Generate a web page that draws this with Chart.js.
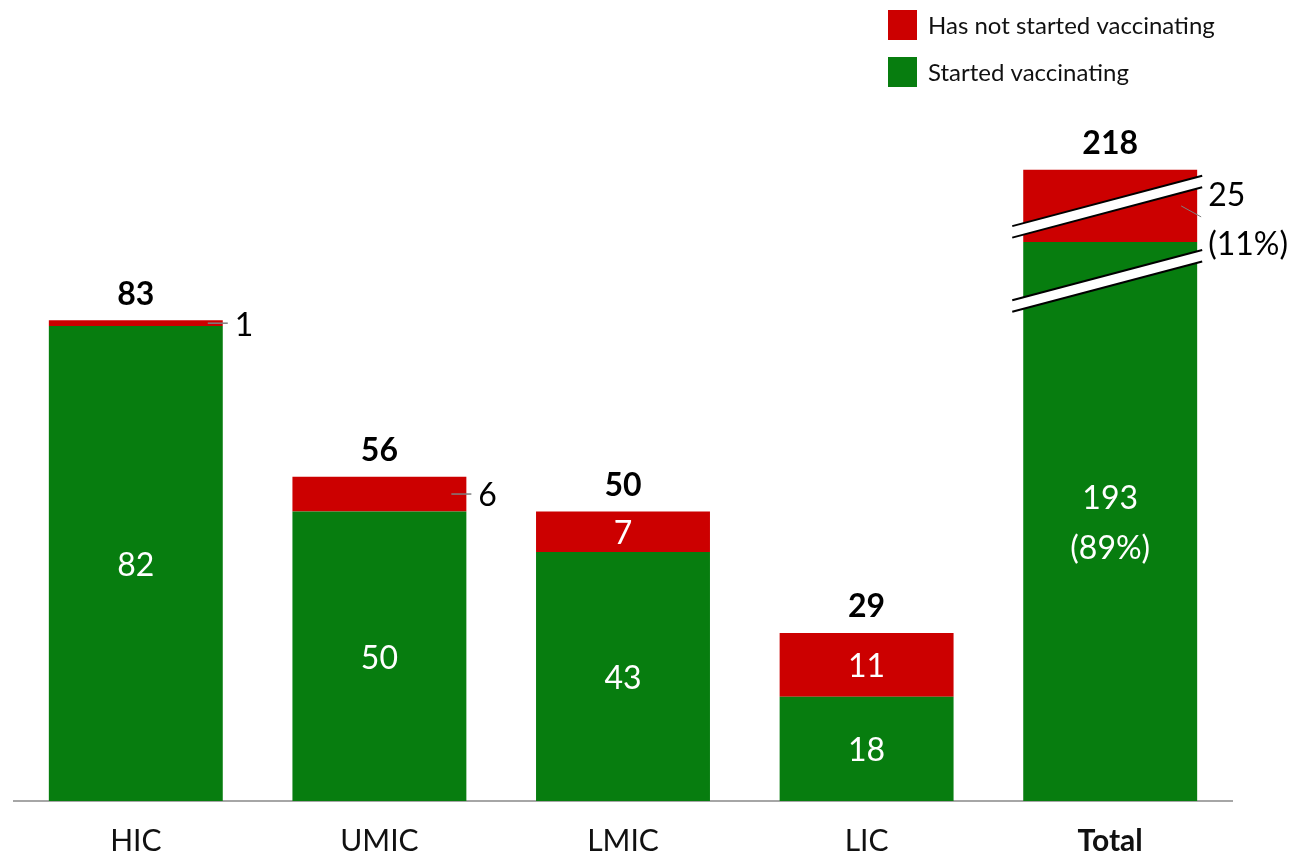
<!DOCTYPE html>
<html>
<head>
<meta charset="utf-8">
<script src="https://cdn.jsdelivr.net/npm/chart.js@4.4.1/dist/chart.umd.min.js"></script>
<style>
  html, body { margin: 0; padding: 0; background: #ffffff; }
  #wrap { width: 1294px; height: 853px; }
</style>
</head>
<body>
<div id="wrap"><canvas id="c" width="1294" height="853"></canvas></div>
<script>
// ---- data ----
const categories = ['HIC', 'UMIC', 'LMIC', 'LIC', 'Total'];
const startedValues = [82, 50, 43, 18, null];
const notStartedValues = [1, 6, 7, 11, null];
const totalStartedValues = [null, null, null, null, 193];
const totalNotStartedValues = [null, null, null, null, 25];
const barTotals = [83, 56, 50, 29, 218];
const totalStartedPct = '89%';
const totalNotStartedPct = '11%';
const legendLabels = ['Has not started vaccinating', 'Started vaccinating'];

const GREEN = 'rgb(7,125,15)';
const RED = 'rgb(204,0,0)';
const FONT = 'Lato, "Open Sans", sans-serif';

const labelsPlugin = {
  id: 'labelsPlugin',
  afterDatasetsDraw(chart) {
    const ctx = chart.ctx;
    const mG = chart.getDatasetMeta(0), mR = chart.getDatasetMeta(1);
    const mGT = chart.getDatasetMeta(2), mRT = chart.getDatasetMeta(3);
    ctx.save();
    ctx.textBaseline = 'middle';
    for (let i = 0; i < categories.length; i++) {
      const isTotal = startedValues[i] === null;
      const g = isTotal ? mGT.data[i] : mG.data[i];
      const r = isTotal ? mRT.data[i] : mR.data[i];
      const left = g.x - g.width / 2, right = g.x + g.width / 2;
      // green label
      ctx.fillStyle = '#ffffff';
      ctx.textAlign = 'center';
      ctx.font = '32px ' + FONT;
      const gMid = (g.y + g.base) / 2;
      if (isTotal) {
        ctx.fillText(String(totalStartedValues[i]), g.x, gMid - 23);
        ctx.fillText('(' + totalStartedPct + ')', g.x, gMid + 27);
      } else {
        ctx.fillText(String(startedValues[i]), g.x, gMid + 2);
      }
      // red label
      const rMid = (r.y + r.base) / 2;
      const rH = r.base - r.y;
      if (isTotal) {
        // break marks
        const slope = -0.265, th = 11.5;
        const x1 = left - 11, x2 = right + 5;
        const bands = [rMid, g.y + 38];
        bands.forEach(cy => {
          const yA = cy - th / 2 - slope * (g.x - x1);
          const yB = cy - th / 2 + slope * (x2 - g.x);
          ctx.beginPath();
          ctx.moveTo(x1, yA); ctx.lineTo(x2, yB);
          ctx.lineTo(x2, yB + th); ctx.lineTo(x1, yA + th); ctx.closePath();
          ctx.fillStyle = '#ffffff'; ctx.fill();
          ctx.strokeStyle = '#000000'; ctx.lineWidth = 2;
          ctx.beginPath(); ctx.moveTo(x1, yA); ctx.lineTo(x2, yB); ctx.stroke();
          ctx.beginPath(); ctx.moveTo(x1, yA + th); ctx.lineTo(x2, yB + th); ctx.stroke();
        });
        // leader
        ctx.strokeStyle = '#7f7f7f'; ctx.lineWidth = 1;
        ctx.beginPath(); ctx.moveTo(right - 16, rMid); ctx.lineTo(right + 4, rMid + 11); ctx.stroke();
        ctx.fillStyle = '#000000'; ctx.textAlign = 'left'; ctx.font = '32px ' + FONT;
        ctx.fillText(String(totalNotStartedValues[i]), right + 11, rMid - 10);
        ctx.fillText('(' + totalNotStartedPct + ')', right + 11, rMid + 39);
      } else if (rH > 38) {
        ctx.fillStyle = '#ffffff'; ctx.textAlign = 'center';
        ctx.fillText(String(notStartedValues[i]), r.x, rMid + 2);
      } else {
        ctx.strokeStyle = '#7f7f7f'; ctx.lineWidth = 1.5;
        ctx.beginPath(); ctx.moveTo(right - 15, rMid); ctx.lineTo(right + 5, rMid); ctx.stroke();
        ctx.fillStyle = '#000000'; ctx.textAlign = 'left';
        ctx.fillText(String(notStartedValues[i]), right + 12, rMid + 2);
      }
      // total on top
      ctx.fillStyle = '#000000'; ctx.textAlign = 'center';
      ctx.font = 'bold 32px ' + FONT;
      ctx.fillText(String(barTotals[i]), g.x, r.y - 26);
    }
    ctx.restore();
  },
  afterDraw(chart) {
    const ctx = chart.ctx;
    ctx.save();
    const x0 = chart.width - 406;
    const items = [[RED, legendLabels[0], 10], [GREEN, legendLabels[1], 57]];
    ctx.textBaseline = 'middle'; ctx.textAlign = 'left';
    ctx.font = '24px ' + FONT;
    items.forEach(([col, txt, y]) => {
      ctx.fillStyle = col; ctx.fillRect(x0, y, 29, 30);
      ctx.fillStyle = '#111111'; ctx.fillText(txt, x0 + 40, y + 16);
    });
    ctx.restore();
  }
};

new Chart(document.getElementById('c'), {
  type: 'bar',
  data: {
    labels: categories,
    datasets: [
      { label: legendLabels[1], data: startedValues, backgroundColor: GREEN, yAxisID: 'y', stack: 's' },
      { label: legendLabels[0], data: notStartedValues, backgroundColor: RED, yAxisID: 'y', stack: 's' },
      { label: legendLabels[1] + ' (total)', data: totalStartedValues, backgroundColor: GREEN, yAxisID: 'y2', stack: 's' },
      { label: legendLabels[0] + ' (total)', data: totalNotStartedValues, backgroundColor: RED, yAxisID: 'y2', stack: 's' }
    ]
  },
  options: {
    responsive: false,
    animation: false,
    devicePixelRatio: 1,
    layout: { padding: { left: 14, right: 62, top: 106, bottom: 0 } },
    datasets: { bar: { categoryPercentage: 1, barPercentage: 0.714 } },
    plugins: { legend: { display: false }, tooltip: { enabled: false } },
    scales: {
      x: {
        stacked: true,
        grid: { display: false, drawTicks: false },
        border: { display: true, color: '#a6a6a6', width: 2 },
        afterFit: (scale) => { scale.height = 52; },
        ticks: {
          padding: 22,
          color: '#111111',
          font: (c) => ({ family: FONT, size: 30, lineHeight: 1.2, weight: c.index === 4 ? 'bold' : 'normal' })
        }
      },
      y: { stacked: true, display: false, min: 0, max: 120 },
      y2: { stacked: true, display: false, min: 0, max: 240 }
    }
  },
  plugins: [labelsPlugin]
});
</script>
</body>
</html>
